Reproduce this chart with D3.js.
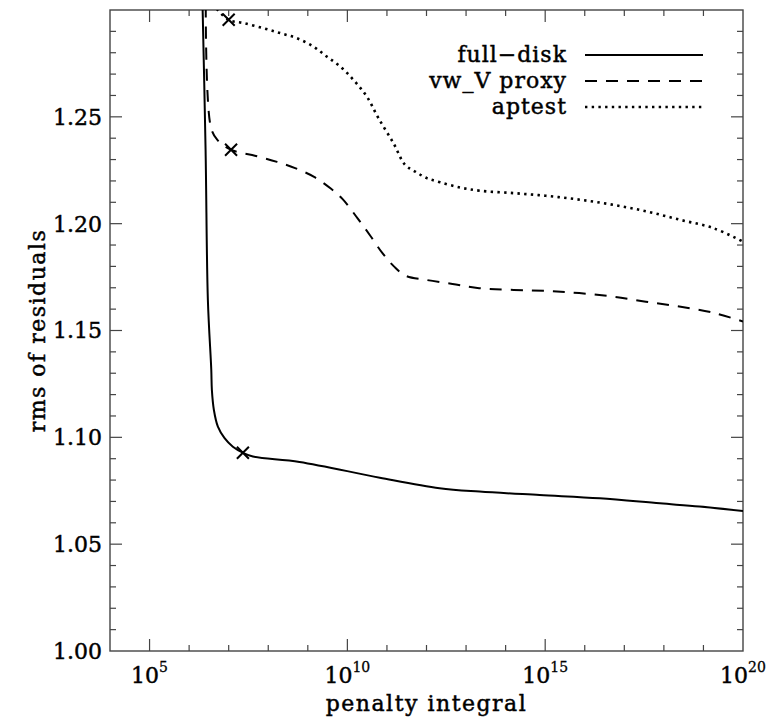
<!DOCTYPE html>
<html>
<head>
<meta charset="utf-8">
<script src="https://cdn.jsdelivr.net/npm/d3@7"></script>
<style>
  body { margin: 0; background: #fff; }
  svg { display: block; }
  text { font-family: "DejaVu Serif", "Liberation Serif", serif; fill: #000; stroke: #000; stroke-width: 0.45px; }
</style>
</head>
<body>
<div id="chart"></div>
<script>
// penalty integral given as log10 exponent, rms of residuals
var fullDiskExp = [6.33, 6.416, 6.474, 6.56, 6.575, 6.626, 6.727, 6.896, 7.106, 7.359, 7.612, 8.79, 10.82, 12.33, 13.34, 14.86, 16.38, 17.9, 18.9, 20.0];
var fullDiskRms = [1.31, 1.2346, 1.1643, 1.1316, 1.1222, 1.1128, 1.105, 1.0996, 1.0956, 1.0928, 1.091, 1.0885, 1.0811, 1.0762, 1.0746, 1.073, 1.0715, 1.0691, 1.0676, 1.0655];

var proxyExp = [6.42, 6.548, 6.714, 7.06, 7.685, 8.224, 8.679, 9.159, 9.589, 9.875, 10.254, 10.593, 10.887, 11.183, 11.478, 11.984, 12.657, 13.331, 15.018, 15.86, 16.702, 17.545, 18.388, 19.23, 20.0];
var proxyRms = [1.302, 1.2453, 1.2392, 1.2346, 1.2317, 1.2289, 1.226, 1.2219, 1.2163, 1.2116, 1.2026, 1.194, 1.1862, 1.1799, 1.1756, 1.1737, 1.1718, 1.1698, 1.1685, 1.1675, 1.1659, 1.1635, 1.1612, 1.1584, 1.1542];

var aptestExp = [6.7, 7.0, 7.371, 7.877, 8.299, 8.722, 9.141, 9.48, 9.817, 10.153, 10.491, 10.785, 11.164, 11.46, 11.713, 12.009, 12.345, 12.851, 13.357, 14.199, 15.042, 15.884, 16.726, 17.569, 18.411, 19.254, 20.0];
var aptestRms = [1.3005, 1.2954, 1.2939, 1.2915, 1.2892, 1.2868, 1.2829, 1.2782, 1.2736, 1.2673, 1.2595, 1.2494, 1.2377, 1.2275, 1.2244, 1.2213, 1.2194, 1.2169, 1.2154, 1.2143, 1.213, 1.2112, 1.2088, 1.2057, 1.2018, 1.1979, 1.1916];

// chosen points (crosses)
var crossExp = [7.359, 7.06, 7.0];
var crossRms = [1.0928, 1.2346, 1.2954];

var seriesNames = ["full\u2212disk", "vw_V proxy", "aptest"];
var yTickLabels = ["1.00", "1.05", "1.10", "1.15", "1.20", "1.25"];
var xTickExp = [5, 10, 15, 20];

var width = 771, height = 718;
var plotLeft = 110, plotRight = 743, plotTop = 10, plotBottom = 651;

var svg = d3.select("#chart").append("svg")
    .attr("width", width)
    .attr("height", height);

var x = d3.scaleLog().domain([1e4, 1e20]).range([plotLeft, plotRight]);
var y = d3.scaleLinear().domain([1.0, 1.3]).range([plotBottom, plotTop]);

svg.append("defs").append("clipPath").attr("id", "plotclip")
    .append("rect")
    .attr("x", plotLeft).attr("y", plotTop)
    .attr("width", plotRight - plotLeft).attr("height", plotBottom - plotTop);

// ticks, inside on all four sides
var ticks = svg.append("g").attr("stroke", "#444").attr("stroke-width", 1.2);
d3.range(5, 20).forEach(function(e) {
    var px = x(Math.pow(10, e));
    var len = (e % 5 === 0) ? 12 : 6;
    ticks.append("line").attr("x1", px).attr("x2", px).attr("y1", plotBottom).attr("y2", plotBottom - len);
    ticks.append("line").attr("x1", px).attr("x2", px).attr("y1", plotTop).attr("y2", plotTop + len);
});
d3.range(1, 30).forEach(function(i) {
    var py = y(1 + i * 0.01);
    var len = (i % 5 === 0) ? 12 : 6;
    ticks.append("line").attr("x1", plotLeft).attr("x2", plotLeft + len).attr("y1", py).attr("y2", py);
    ticks.append("line").attr("x1", plotRight).attr("x2", plotRight - len).attr("y1", py).attr("y2", py);
});

svg.append("rect")
    .attr("x", plotLeft).attr("y", plotTop)
    .attr("width", plotRight - plotLeft).attr("height", plotBottom - plotTop)
    .attr("fill", "none")
    .attr("stroke", "#444")
    .attr("stroke-width", 1.4);

// y tick labels
svg.append("g").selectAll("text")
    .data(yTickLabels)
    .enter().append("text")
    .attr("x", plotLeft - 8)
    .attr("y", function(d) { return y(+d); })
    .attr("dy", "0.36em")
    .attr("text-anchor", "end")
    .style("font-size", "22px")
    .text(function(d) { return d; });

// x tick labels 10^n
var xl = svg.append("g").selectAll("text")
    .data(xTickExp)
    .enter().append("text")
    .attr("x", function(d) { return x(Math.pow(10, d)); })
    .attr("y", 683)
    .attr("text-anchor", "middle")
    .style("font-size", "22px");
xl.append("tspan").text("10");
xl.append("tspan")
    .attr("dy", -11)
    .style("font-size", "14px")
    .style("stroke-width", "0.3px")
    .text(function(d) { return d; });

// axis titles
svg.append("text")
    .attr("x", (plotLeft + plotRight) / 2)
    .attr("y", 711)
    .attr("text-anchor", "middle")
    .style("font-size", "22px")
    .style("letter-spacing", "1.5px")
    .text("penalty integral");

svg.append("text")
    .attr("transform", "translate(45," + ((plotTop + plotBottom) / 2) + ") rotate(-90)")
    .attr("text-anchor", "middle")
    .style("font-size", "22px")
    .style("letter-spacing", "1.5px")
    .text("rms of residuals");

// curves
var line = d3.line()
    .x(function(d) { return x(Math.pow(10, d[0])); })
    .y(function(d) { return y(d[1]); })
    .curve(d3.curveCatmullRom.alpha(0.5));

var dashes = [null, "12,9", "2.4,4.3"];
var series = [
    d3.zip(fullDiskExp, fullDiskRms),
    d3.zip(proxyExp, proxyRms),
    d3.zip(aptestExp, aptestRms)
];
var widths = [2, 2, 2.6];

var plot = svg.append("g").attr("clip-path", "url(#plotclip)");
plot.selectAll("path.curve")
    .data(series)
    .enter().append("path")
    .attr("class", "curve")
    .attr("d", line)
    .attr("fill", "none")
    .attr("stroke", "#000")
    .attr("stroke-width", function(d, i) { return widths[i]; })
    .attr("stroke-dasharray", function(d, i) { return dashes[i]; });

// crosses
var cs = 6;
var crosses = plot.selectAll("g.cross")
    .data(d3.zip(crossExp, crossRms))
    .enter().append("g")
    .attr("class", "cross")
    .attr("transform", function(d) { return "translate(" + x(Math.pow(10, d[0])) + "," + y(d[1]) + ")"; });
crosses.append("path")
    .attr("d", "M" + (-cs) + "," + (-cs) + "L" + cs + "," + cs + "M" + (-cs) + "," + cs + "L" + cs + "," + (-cs))
    .attr("stroke", "#000")
    .attr("stroke-width", 2);

// legend
var legend = svg.append("g").selectAll("g")
    .data(seriesNames)
    .enter().append("g")
    .attr("transform", function(d, i) { return "translate(0," + (55 + i * 26) + ")"; });
legend.append("text")
    .attr("x", 567)
    .attr("dy", "0.3em")
    .attr("text-anchor", "end")
    .style("font-size", "22px")
    .style("letter-spacing", "1px")
    .text(function(d) { return d; });
legend.append("line")
    .attr("x1", 585).attr("x2", 703)
    .attr("stroke", "#000")
    .attr("stroke-width", function(d, i) { return widths[i]; })
    .attr("stroke-dasharray", function(d, i) { return dashes[i]; });
</script>
</body>
</html>
